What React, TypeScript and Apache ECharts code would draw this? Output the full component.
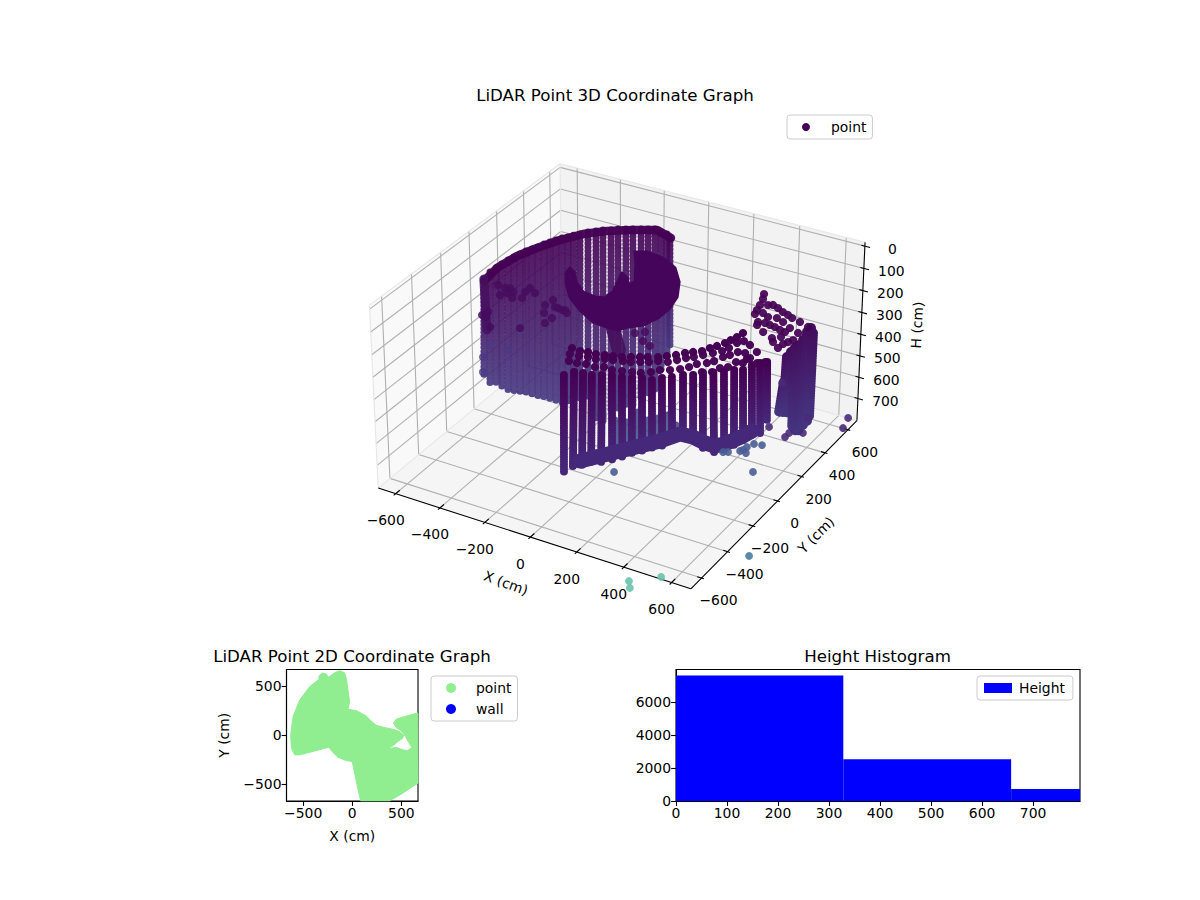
import { useEffect, useRef } from 'react'
import * as echarts from 'echarts'

const FONT = 'DejaVu Sans'

// 3D axes
const X_LIM = [-680, 680]
const Y_LIM = [-680, 680]
const H_LIM = [-17, 805] // inverted: H grows downwards
const X_TICKS = [-600, -400, -200, 0, 200, 400, 600]
const Y_TICKS = [-600, -400, -200, 0, 200, 400, 600]
const H_TICKS = [0, 100, 200, 300, 400, 500, 600, 700]

// far wall, scan columns: [x, y] at the top and bottom of each column
const BACK_H = [110, 640]
const BACK_TOP = [
  [-548, -107], [-558, -47], [-555, -8], [-553, 31], [-550, 71], [-543, 103], [-536, 136], [-529, 169], [-517, 195], [-506, 221],
  [-498, 254], [-487, 280], [-475, 306], [-464, 333], [-448, 352], [-436, 375], [-420, 397], [-401, 427], [-378, 450], [-359, 472],
  [-331, 487], [-312, 509], [-285, 524], [-261, 538], [-233, 554], [-209, 568], [-186, 582], [-152, 571], [-124, 568], [-97, 544],
]
const BACK_BOTTOM = [
  [-631, 3], [-581, -32], [-552, -33], [-524, -35], [-495, -36], [-467, -37], [-442, -32], [-414, -33], [-385, -35], [-361, -30],
  [-333, -31], [-309, -26], [-285, -21], [-260, -16], [-240, -4], [-224, 14], [-212, 39], [-188, 61], [-81, -60], [-46, -66],
  [-69, 34], [-53, 60], [-26, 76], [-14, 109], [-6, 158], [-1, 205], [4, 252], [-52, 400], [-90, 516], [-108, 572],
]
const ROOF_H = 100
const ROOF = [[-529, -135], [-542, -21], [-527, 101], [-495, 196], [-452, 298], [-400, 387], [-331, 456], [-247, 515], [-165, 562], [-85, 530]]
const LEFT_EDGE = [[-548, -107, 110], [-504, -163, 300]]
const BACK_DOTS_H = 200
const BACK_DOTS = [
  [-563, 15], [-526, 8], [-509, 17], [-482, -4], [-498, -23], [-460, -47], [-513, -50], [-481, -187], [-427, -28], [-442, 19],
  [-443, 56], [-405, 31], [-322, -31], [-292, -87], [-316, 18], [-280, -26], [-266, -27], [-245, -33], [-217, -44], [-246, -106],
  [-249, -152], [-488, -218], [-467, -224], [-412, -282], [-310, -232], [-235, -27], [85, -49], [113, -23], [141, -87], [182, -107],
]
const BACK_DOTS_LOW = [[-264, -399], [-339, -399], [-313, -488], [-254, -582]]

// ceiling dish
const DISH_H = 60
const DISH = [
  [-262, 57], [-232, 37], [-185, -28], [-121, -83], [-63, -94], [-26, -82], [-28, -56], [-24, -26], [-70, 121], [-33, 96],
  [-2, 50], [9, 83], [-64, 218], [-112, 294], [-72, 317], [6, 305], [85, 257], [153, 167], [204, 60], [222, -28],
  [221, -117], [200, -191], [159, -231], [139, -269], [92, -270], [28, -263], [-60, -209], [-144, -141], [-213, -54], [-254, 15],
]
const NECK = [[115, -266, 60], [12, -44, 300]]

// low returns behind the near wall
const LOW_H = [500, 620]
const LOW_TOP = [[95, -218], [142, -208], [141, -124], [203, -156], [228, -124], [250, -86], [312, -135]]
const LOW_BOTTOM = [[116, -254], [148, -218], [173, -179], [199, -147], [221, -110], [247, -78], [273, -63]]

// near wall
const FRONT_H = [150, 470]
const FRONT_TOP = [
  [58, -523], [79, -486], [111, -476], [146, -472], [178, -454], [209, -435], [248, -430], [283, -418], [315, -400], [353, -394], [377, -363],
  [405, -339], [433, -306], [465, -288], [489, -257], [520, -235], [552, -213], [577, -181], [605, -165], [616, -116], [635, -89], [654, -69],
]
const FRONT_BOTTOM = [
  [143, -670], [157, -630], [182, -607], [197, -567], [225, -543], [253, -511], [274, -474], [295, -438], [320, -407], [342, -371], [367, -340],
  [378, -284], [399, -239], [449, -252], [501, -271], [550, -275], [575, -244], [590, -195], [609, -159], [621, -111], [634, -71], [619, 12],
]
const SKIRT_H = 440
const SKIRT = [[179, -616], [224, -549], [270, -483], [316, -416], [363, -348], [402, -268], [454, -263], [503, -275], [552, -280], [577, -249], [595, -206], [611, -164], [623, -116]]

// top scan lines of the near wall
const ROW_A_H = 60
const ROW_A = [
  [61, -469], [97, -473], [126, -465], [158, -463], [190, -453], [219, -445], [251, -435], [279, -418], [307, -402], [332, -388], [364, -370],
  [388, -347], [413, -324], [434, -295], [456, -274], [481, -252], [495, -218], [510, -192], [525, -158], [533, -128], [542, -97], [547, -60],
]
const ROW_A2_H = 80
const ROW_A2 = [
  [59, -481], [95, -477], [127, -467], [160, -467], [188, -449], [217, -441], [252, -429], [280, -421], [309, -404], [337, -388], [362, -365],
  [396, -354], [418, -325], [439, -296], [460, -275], [482, -246], [506, -215], [528, -185], [539, -153], [547, -106], [562, -80], [595, -95],
]
const ROW_B_H = 110
const ROW_B = [
  [56, -483], [89, -481], [121, -471], [160, -474], [189, -457], [225, -462], [260, -450], [295, -438], [326, -428], [354, -404], [375, -375], [407, -357],
  [435, -332], [456, -303], [470, -270], [498, -245], [514, -220], [528, -177], [543, -152], [558, -118], [584, -111], [617, -135], [618, -83],
]
const ROW_C_H = 130
const ROW_C = [[498, -282], [530, -264], [541, -224], [563, -203], [571, -156], [596, -150], [595, -117], [641, -124], [663, -103]]

// right hand wall
const RIGHT_H = [150, 520]
const RIGHT_TOP = [[774, -167], [700, 0], [696, 40], [695, 74], [698, 102], [694, 143], [679, 204], [678, 239], [702, 208]]
const RIGHT_BOTTOM = [[589, 172], [605, 173], [618, 180], [682, 99], [708, 72], [718, 78], [717, 119], [714, 159], [704, 196]]
const RIGHT_ROOF_H = 90
const RIGHT_ROOF = [
  [451, 291], [466, 254], [478, 207], [486, 167], [504, 222], [520, 232], [547, 220], [577, 202], [604, 191], [628, 178], [667, 166], [710, 147],
  [699, 88], [707, 32], [698, 9], [689, -13], [686, -48], [633, 6], [650, -18], [658, 30], [654, 70], [631, 75], [604, 85], [581, 90], [558, 94],
  [532, 88], [540, 66], [584, 30], [579, 150], [613, 134], [656, 106], [547, 140], [516, 158], [494, 136],
]

// stray returns
const BLUE_H = 620
const BLUE_STRAYS = [[184, -378], [633, -119], [573, 68], [543, 60], [530, 27], [527, 1], [521, -11], [547, -13], [485, -40], [469, -50]]
const DARK_H = 560
const DARK_STRAYS = [[578, 113], [664, 78], [664, 112], [709, 138], [676, 246], [469, 431], [808, 322], [824, 246]]
const FLOOR_H = 790
const MID_STRAYS = [[772, -405]]
const TEAL_STRAYS = [[472, -767], [497, -804], [560, -686]]

// 2D footprint outline, cm
const FOOTPRINT = [
  [244, 102], [329, 78], [414, 61], [481, 37], [522, 3], [515, -31], [464, -64], [414, -108], [353, -142],
  [447, -122], [515, -149], [566, -156], [607, -122], [576, -75], [542, -14], [505, 37], [447, 81], [420, 122],
  [447, 163], [532, 190], [668, 227], [670, -488], [617, -522], [515, -590], [380, -668], [85, -668], [41, -471],
  [0, -268], [-61, -258], [-146, -224], [-214, -156], [-237, -122], [-536, -200], [-586, -200], [-620, -132],
  [-627, 3], [-603, 190], [-536, 359], [-434, 495], [-339, 569], [-339, 603], [-305, 634], [-264, 624],
  [-244, 590], [-180, 637], [-129, 658], [-78, 637], [-58, 569], [-44, 461], [-27, 342], [-44, 264], [41, 251],
  [142, 197], [210, 129],
]

// histogram
const BIN_EDGES = [0, 328, 657, 985]
const BIN_COUNTS = [7640, 2545, 727]

// matplotlib style camera, elev 30 azim -60
function project(x: number, y: number, h: number): number[] {
  const px = (x / 680) * 0.595
  const py = (y / 680) * 0.595
  const pz = ((394 - h) / 411) * 0.348
  const X = 0.866 * px + 0.5 * py
  const Y = -0.25 * px + 0.433 * py + 0.866 * pz
  const Z = 0.433 * px - 0.75 * py + 0.5 * pz
  const d = 10 - Z
  return [622 + (2995 * X) / d, 365 - (2995 * Y) / d]
}

const [x0, x1] = X_LIM
const [y0, y1] = Y_LIM
const [hTop, hFloor] = H_LIM

const PANES = [
  { fill: '#f9f9f9', pts: [[x0, y0, hFloor], [x0, y1, hFloor], [x0, y1, hTop], [x0, y0, hTop]] },
  { fill: '#f2f2f2', pts: [[x0, y1, hFloor], [x1, y1, hFloor], [x1, y1, hTop], [x0, y1, hTop]] },
  { fill: '#f5f5f5', pts: [[x0, y0, hFloor], [x1, y0, hFloor], [x1, y1, hFloor], [x0, y1, hFloor]] },
]

type Seg = { a: number[]; b: number[]; color: string; width: number }
const GRID = '#b0b0b0'
const frameSegs: Seg[] = []
const seg = (a: number[], b: number[], color = GRID, width = 1.1) => frameSegs.push({ a, b, color, width })
X_TICKS.forEach((x) => {
  seg([x, y0, hFloor], [x, y1, hFloor])
  seg([x, y1, hFloor], [x, y1, hTop])
})
Y_TICKS.forEach((y) => {
  seg([x0, y, hFloor], [x1, y, hFloor])
  seg([x0, y, hFloor], [x0, y, hTop])
})
H_TICKS.forEach((h) => {
  seg([x0, y0, h], [x0, y1, h])
  seg([x0, y1, h], [x1, y1, h])
})
// pale pane edges
const PALE = '#e6e6e6'
seg([x0, y0, hTop], [x0, y1, hTop], PALE)
seg([x0, y1, hTop], [x1, y1, hTop], PALE)
seg([x0, y1, hFloor], [x0, y1, hTop], PALE)
seg([x0, y0, hFloor], [x0, y0, hTop], PALE)
seg([x0, y0, hFloor], [x0, y1, hFloor], PALE)
seg([x0, y1, hFloor], [x1, y1, hFloor], PALE)
// spines + ticks
seg([x0, y0, hFloor], [x1, y0, hFloor], '#000')
seg([x1, y0, hFloor], [x1, y1, hFloor], '#000')
seg([x1, y1, hFloor], [x1, y1, hTop], '#000')
X_TICKS.forEach((x) => seg([x, y0 - 14, hFloor], [x, y0 + 28, hFloor], '#000'))
Y_TICKS.forEach((y) => seg([x1 - 18, y, hFloor], [x1 + 10, y, hFloor], '#000'))
H_TICKS.forEach((h) => seg([x1 - 15, y1, h], [x1 + 22, y1, h], '#000'))

const minus = (v: number) => String(v).replace('-', '\u2212')
const tickText = (p: number[], dx: number, dy: number, text: string) => ({
  type: 'text',
  silent: true,
  x: p[0] + dx,
  y: p[1] + dy,
  style: { text, fill: '#000', font: `13.9px "${FONT}"`, textAlign: 'center', textVerticalAlign: 'middle' },
})
const axisTitle = (x: number, y: number, deg: number, text: string) => ({
  type: 'text',
  silent: true,
  x,
  y,
  rotation: (deg * Math.PI) / 180,
  style: { text, fill: '#000', font: `13.9px "${FONT}"`, textAlign: 'center', textVerticalAlign: 'middle' },
})

// one custom series of dotted scan columns, shaded from top to bottom
function columns(tops: number[][], bottoms: number[][], hs: number[], colors: string[], width: number, gap: number, opacity = 1) {
  return {
    type: 'custom', coordinateSystem: 'cartesian2d', xAxisIndex: 0, yAxisIndex: 0, silent: true,
    data: tops.map((_, i) => [i, 0]),
    renderItem: (p: any, api: any) => {
      const t = tops[p.dataIndex]
      const b = bottoms[p.dataIndex]
      const a = api.coord(project(t[0], t[1], hs[0]))
      const c = api.coord(project(b[0], b[1], hs[1]))
      return {
        type: 'line',
        shape: { x1: a[0], y1: a[1], x2: c[0], y2: c[1] },
        style: {
          stroke: new echarts.graphic.LinearGradient(a[0], a[1], c[0], c[1], [
            { offset: 0, color: colors[0] },
            { offset: 1, color: colors[1] },
          ], true),
          lineWidth: width, lineCap: 'round', lineDash: [0.01, gap], opacity,
        },
      }
    },
  }
}

// a thick line through world points
function band(pts: number[][], color: string, width: number, opacity = 1) {
  return {
    type: 'custom', coordinateSystem: 'cartesian2d', xAxisIndex: 0, yAxisIndex: 0, silent: true,
    data: [[0, 0]],
    renderItem: (_: any, api: any) => ({
      type: 'polyline',
      shape: { points: pts.map((q) => api.coord(project(q[0], q[1], q[2]))) },
      style: { stroke: color, fill: 'none', lineWidth: width, lineCap: 'round', lineJoin: 'round', opacity },
    }),
  }
}

function dots(pts: number[][], h: number, color: string, opacity: number, size = 8.2, name?: string) {
  return {
    type: 'scatter', name, xAxisIndex: 0, yAxisIndex: 0, silent: true,
    symbolSize: size,
    itemStyle: { color, opacity },
    data: pts.map((q) => project(q[0], q[1], h)),
  }
}

const withH = (pts: number[][], h: number) => pts.map((q) => [q[0], q[1], h])

function buildOption(): echarts.EChartsCoreOption {
  const axisCommon = {
    axisLine: { onZero: false, lineStyle: { color: '#000', width: 1.1 } },
    axisTick: { length: 4.9, lineStyle: { color: '#000', width: 1.1 } },
    splitLine: { show: false },
  }
  const label = { color: '#000', fontFamily: FONT, fontSize: 13.9, margin: 5 }
  const ticks = (v: number[]) => ({ ...axisCommon, axisTick: { ...axisCommon.axisTick, customValues: v } })
  const name = { color: '#000', fontFamily: FONT, fontSize: 13.9 }
  const titleStyle = { color: '#000', fontFamily: FONT, fontSize: 16.67, fontWeight: 'normal' }
  const legendBox = { orient: 'vertical', borderColor: '#ccc', borderWidth: 1, borderRadius: 3, backgroundColor: 'rgba(255,255,255,0.8)', selectedMode: false }
  const legendText = { color: '#000', fontFamily: FONT, fontSize: 13.9 }

  return {
    animation: false,
    title: [
      { text: 'LiDAR Point 3D Coordinate Graph', left: 615, top: 86.5, textAlign: 'center', padding: 0, textStyle: titleStyle },
      { text: 'LiDAR Point 2D Coordinate Graph', left: 352, top: 647.5, textAlign: 'center', padding: 0, textStyle: titleStyle },
      { text: 'Height Histogram', left: 877.5, top: 647.5, textAlign: 'center', padding: 0, textStyle: titleStyle },
    ],
    legend: [
      {
        ...legendBox, left: 787, top: 115, data: ['point'], icon: 'circle', itemWidth: 40, itemHeight: 8,
        padding: [5, 6, 5, 15], textStyle: legendText,
      },
      {
        ...legendBox, left: 431, top: 676, data: ['point2d', 'wall'], icon: 'circle', itemWidth: 40, itemHeight: 10, itemGap: 7,
        padding: [5, 6, 5, 15], textStyle: legendText,
        formatter: (n: string) => (n === 'point2d' ? 'point' : n),
      },
      {
        ...legendBox, left: 977, top: 676, data: ['Height'], icon: 'rect', itemWidth: 28, itemHeight: 10,
        padding: [5, 8, 5, 7], textStyle: { ...legendText, padding: [0, 0, 0, 2] },
      },
    ],
    grid: [
      { left: 0, top: 0, width: 1200, height: 900 },
      { left: 286.5, top: 669.5, width: 131.5, height: 131.5, show: true, borderColor: '#000', borderWidth: 1.1 },
      { left: 676, top: 669.5, width: 404, height: 131.5, show: true, borderColor: '#000', borderWidth: 1.1 },
    ],
    xAxis: [
      { gridIndex: 0, type: 'value', min: 0, max: 1200, show: false },
      {
        gridIndex: 1, type: 'value', min: -670, max: 670, ...ticks([-500, 0, 500]),
        axisLabel: { ...label, customValues: [-500, 0, 500], formatter: minus },
        name: 'X (cm)', nameLocation: 'middle', nameGap: 28, nameTextStyle: name,
      },
      {
        gridIndex: 2, type: 'value', min: 0, max: 792, ...ticks([0, 100, 200, 300, 400, 500, 600, 700]),
        axisLabel: { ...label, customValues: [0, 100, 200, 300, 400, 500, 600, 700], formatter: String },
      },
    ],
    yAxis: [
      { gridIndex: 0, type: 'value', min: 0, max: 900, inverse: true, show: false },
      {
        gridIndex: 1, type: 'value', min: -670, max: 670, ...ticks([-500, 0, 500]),
        axisLabel: { ...label, customValues: [-500, 0, 500], formatter: minus },
        name: 'Y (cm)', nameLocation: 'middle', nameGap: 56, nameTextStyle: name,
      },
      {
        gridIndex: 2, type: 'value', min: 0, max: 8000, ...ticks([0, 2000, 4000, 6000]),
        axisLabel: { ...label, customValues: [0, 2000, 4000, 6000], formatter: String },
      },
    ],
    series: [
      {
        type: 'custom', name: 'panes', coordinateSystem: 'cartesian2d', xAxisIndex: 0, yAxisIndex: 0, silent: true,
        data: PANES.map((_, i) => [i, 0]),
        renderItem: (p: any, api: any) => {
          const pane = PANES[p.dataIndex]
          return {
            type: 'polygon',
            shape: { points: pane.pts.map((q) => api.coord(project(q[0], q[1], q[2]))) },
            style: { fill: pane.fill },
          }
        },
      },
      {
        type: 'custom', name: 'frame', coordinateSystem: 'cartesian2d', xAxisIndex: 0, yAxisIndex: 0, silent: true,
        data: frameSegs.map((_, i) => [i, 0]),
        renderItem: (p: any, api: any) => {
          const s = frameSegs[p.dataIndex]
          const a = api.coord(project(s.a[0], s.a[1], s.a[2]))
          const b = api.coord(project(s.b[0], s.b[1], s.b[2]))
          return {
            type: 'line',
            shape: { x1: a[0], y1: a[1], x2: b[0], y2: b[1] },
            style: { stroke: s.color, lineWidth: s.width },
          }
        },
      },
      // far wall
      columns(BACK_TOP, BACK_BOTTOM, BACK_H, ['#440154', '#45367f'], 7, 3.8, 0.9),
      band(withH(ROOF, ROOF_H), '#440154', 8.5, 0.95),
      band(LEFT_EDGE, '#45105f', 9, 0.85),
      dots(BACK_DOTS, BACK_DOTS_H, '#460c5e', 0.85),
      dots(BACK_DOTS_LOW, BACK_DOTS_H, '#4b3a86', 0.75),
      columns(LOW_TOP, LOW_BOTTOM, LOW_H, ['#41407f', '#35558f'], 7, 2.5, 0.85),
      // dish + neck
      band(NECK, '#47125f', 14, 0.95),
      {
        type: 'custom', coordinateSystem: 'cartesian2d', xAxisIndex: 0, yAxisIndex: 0, silent: true,
        data: [[0, 0]],
        renderItem: (_: any, api: any) => ({
          type: 'polygon',
          shape: { points: withH(DISH, DISH_H).map((q) => api.coord(project(q[0], q[1], q[2]))) },
          style: { fill: '#44055a', stroke: '#44055a', lineWidth: 3, lineJoin: 'round' },
        }),
      },
      // right hand wall
      columns(RIGHT_TOP, RIGHT_BOTTOM, RIGHT_H, ['#440e5e', '#44347f'], 10, 2.5),
      dots(RIGHT_ROOF, RIGHT_ROOF_H, '#440154', 0.92),
      // near wall
      columns(FRONT_TOP, FRONT_BOTTOM, FRONT_H, ['#440154', '#46287a'], 8, 2.4),
      band(withH(SKIRT, SKIRT_H), '#46287a', 15),
      dots(ROW_C, ROW_C_H, '#440154', 0.97),
      dots(ROW_B, ROW_B_H, '#440154', 0.97),
      dots(ROW_A2, ROW_A2_H, '#440154', 0.97),
      dots(ROW_A, ROW_A_H, '#440154', 1, 8.2, 'point'),
      // strays
      dots(DARK_STRAYS, DARK_H, '#4a2a78', 0.9, 7.8),
      dots(BLUE_STRAYS, BLUE_H, '#4a5d96', 0.9, 7.8),
      dots(MID_STRAYS, FLOOR_H, '#487e9c', 0.9, 7.8),
      dots(TEAL_STRAYS, FLOOR_H, '#69c2ab', 0.9, 7.8),
      {
        type: 'custom', name: 'point2d', coordinateSystem: 'cartesian2d', xAxisIndex: 1, yAxisIndex: 1, silent: true,
        itemStyle: { color: 'lightgreen' },
        data: [[0, 0]],
        renderItem: (_: any, api: any) => ({
          type: 'polygon',
          shape: { points: FOOTPRINT.map((q) => api.coord(q)) },
          style: { fill: 'lightgreen', stroke: 'lightgreen', lineWidth: 1, lineJoin: 'round' },
        }),
      },
      { type: 'scatter', name: 'wall', xAxisIndex: 1, yAxisIndex: 1, data: [], itemStyle: { color: 'blue', opacity: 1 } },
      {
        type: 'custom', name: 'Height', coordinateSystem: 'cartesian2d', xAxisIndex: 2, yAxisIndex: 2, silent: true,
        itemStyle: { color: 'blue' },
        data: BIN_COUNTS.map((c, i) => [BIN_EDGES[i], c, BIN_EDGES[i + 1]]),
        renderItem: (p: any, api: any) => {
          const a = api.coord([api.value(0), api.value(1)])
          const b = api.coord([api.value(2), 0])
          const shape = echarts.graphic.clipRectByRect(
            { x: a[0], y: a[1], width: b[0] - a[0], height: b[1] - a[1] },
            { x: p.coordSys.x, y: p.coordSys.y, width: p.coordSys.width, height: p.coordSys.height },
          )
          return { type: 'rect', shape, style: { fill: 'blue' } }
        },
      },
    ],
    graphic: [
      ...X_TICKS.map((x) => tickText(project(x, y0, hFloor), -10, 26.5, minus(x))),
      ...Y_TICKS.map((y) => tickText(project(x1, y, hFloor), 17, 22, minus(y))),
      ...H_TICKS.map((h) => tickText(project(x1, y1, h), 27.5, 2.5, String(h))),
      axisTitle(506, 583, -20, 'X (cm)'),
      axisTitle(816, 535, 45, 'Y (cm)'),
      axisTitle(917, 325, 87, 'H (cm)'),
    ],
  }
}

export default function App() {
  const ref = useRef<HTMLDivElement>(null)
  useEffect(() => {
    document.body.style.margin = '0'
    const chart = echarts.init(ref.current, undefined, { renderer: 'svg' })
    chart.setOption(buildOption())
    return () => chart.dispose()
  }, [])
  return <div ref={ref} style={{ width: 1200, height: 900 }} />
}
